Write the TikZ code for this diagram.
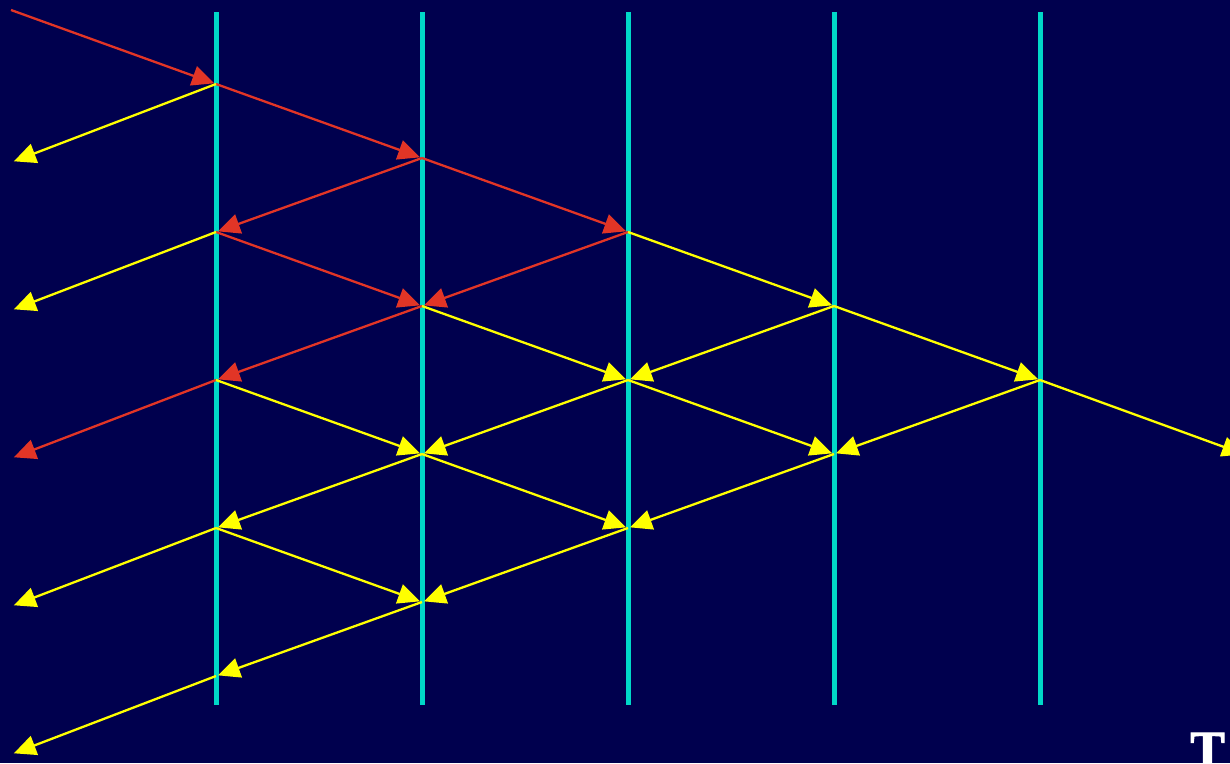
\documentclass[tikz,border=0pt]{standalone}
\usepackage{fontspec}
\newfontfamily\headfont{Liberation Serif Bold}[FakeBold=2]
\usepackage{xcolor}
\usetikzlibrary{arrows.meta}
\definecolor{wvnavy}{HTML}{00004E}
\definecolor{wvcyan}{HTML}{00D8C8}
\definecolor{wvred}{HTML}{E23526}
\definecolor{wvyellow}{HTML}{FFFF00}

\begin{document}
\begin{tikzpicture}[x=1pt,y=-1pt,
  iface/.style={line width=5pt,color=wvcyan},
  refl/.style={-{Triangle[length=22pt,width=20pt]},line width=2.3pt,
               color=wvred,shorten >=2pt},
  trans/.style={refl,color=wvyellow}
]
\fill[wvnavy] (0,0) rectangle (1230,763);
\useasboundingbox (0,0) rectangle (1230,763);
\clip (0,0) rectangle (1230,763);

% interfaces
\foreach \c/\x in {1/216,2/422,3/628,4/834,5/1040} {
  \coordinate (t\c) at (\x,12);
  \coordinate (b\c) at (\x,705);
  \draw[iface] (t\c) -- (b\c);
  \foreach \r in {1,...,9}
    \coordinate (p\c\r) at (\x,{84+74*(\r-1)});
}

% free ends
\coordinate (src) at (11,10);
\coordinate (out1) at (12,162);
\coordinate (out3) at (12,310);
\coordinate (out5) at (12,458);
\coordinate (out7) at (12,606);
\coordinate (out9) at (12,754);
\coordinate (far) at (1246,455);

% red rays
\draw[refl] (src) -- (p11);
\draw[refl] (p11) -- (p22);
\draw[refl] (p22) -- (p33);
\draw[refl] (p22) -- (p13);
\draw[refl] (p13) -- (p24);
\draw[refl] (p33) -- (p24);
\draw[refl] (p24) -- (p15);
\draw[refl] (p15) -- (out5);

% yellow rays
\draw[trans] (p11) -- (out1);
\draw[trans] (p13) -- (out3);
\draw[trans] (p33) -- (p44);
\draw[trans] (p44) -- (p55);
\draw[trans] (p24) -- (p35);
\draw[trans] (p44) -- (p35);
\draw[trans] (p55) -- (far);
\draw[trans] (p55) -- (p46);
\draw[trans] (p35) -- (p46);
\draw[trans] (p35) -- (p26);
\draw[trans] (p15) -- (p26);
\draw[trans] (p26) -- (p17);
\draw[trans] (p26) -- (p37);
\draw[trans] (p46) -- (p37);
\draw[trans] (p17) -- (out7);
\draw[trans] (p17) -- (p28);
\draw[trans] (p37) -- (p28);
\draw[trans] (p28) -- (p19);
\draw[trans] (p19) -- (out9);

\node[anchor=base west,inner sep=0pt,text=white,
      font=\headfont\fontsize{52}{52}\selectfont] (title) at (1190,767) {T};
\end{tikzpicture}
\end{document}
